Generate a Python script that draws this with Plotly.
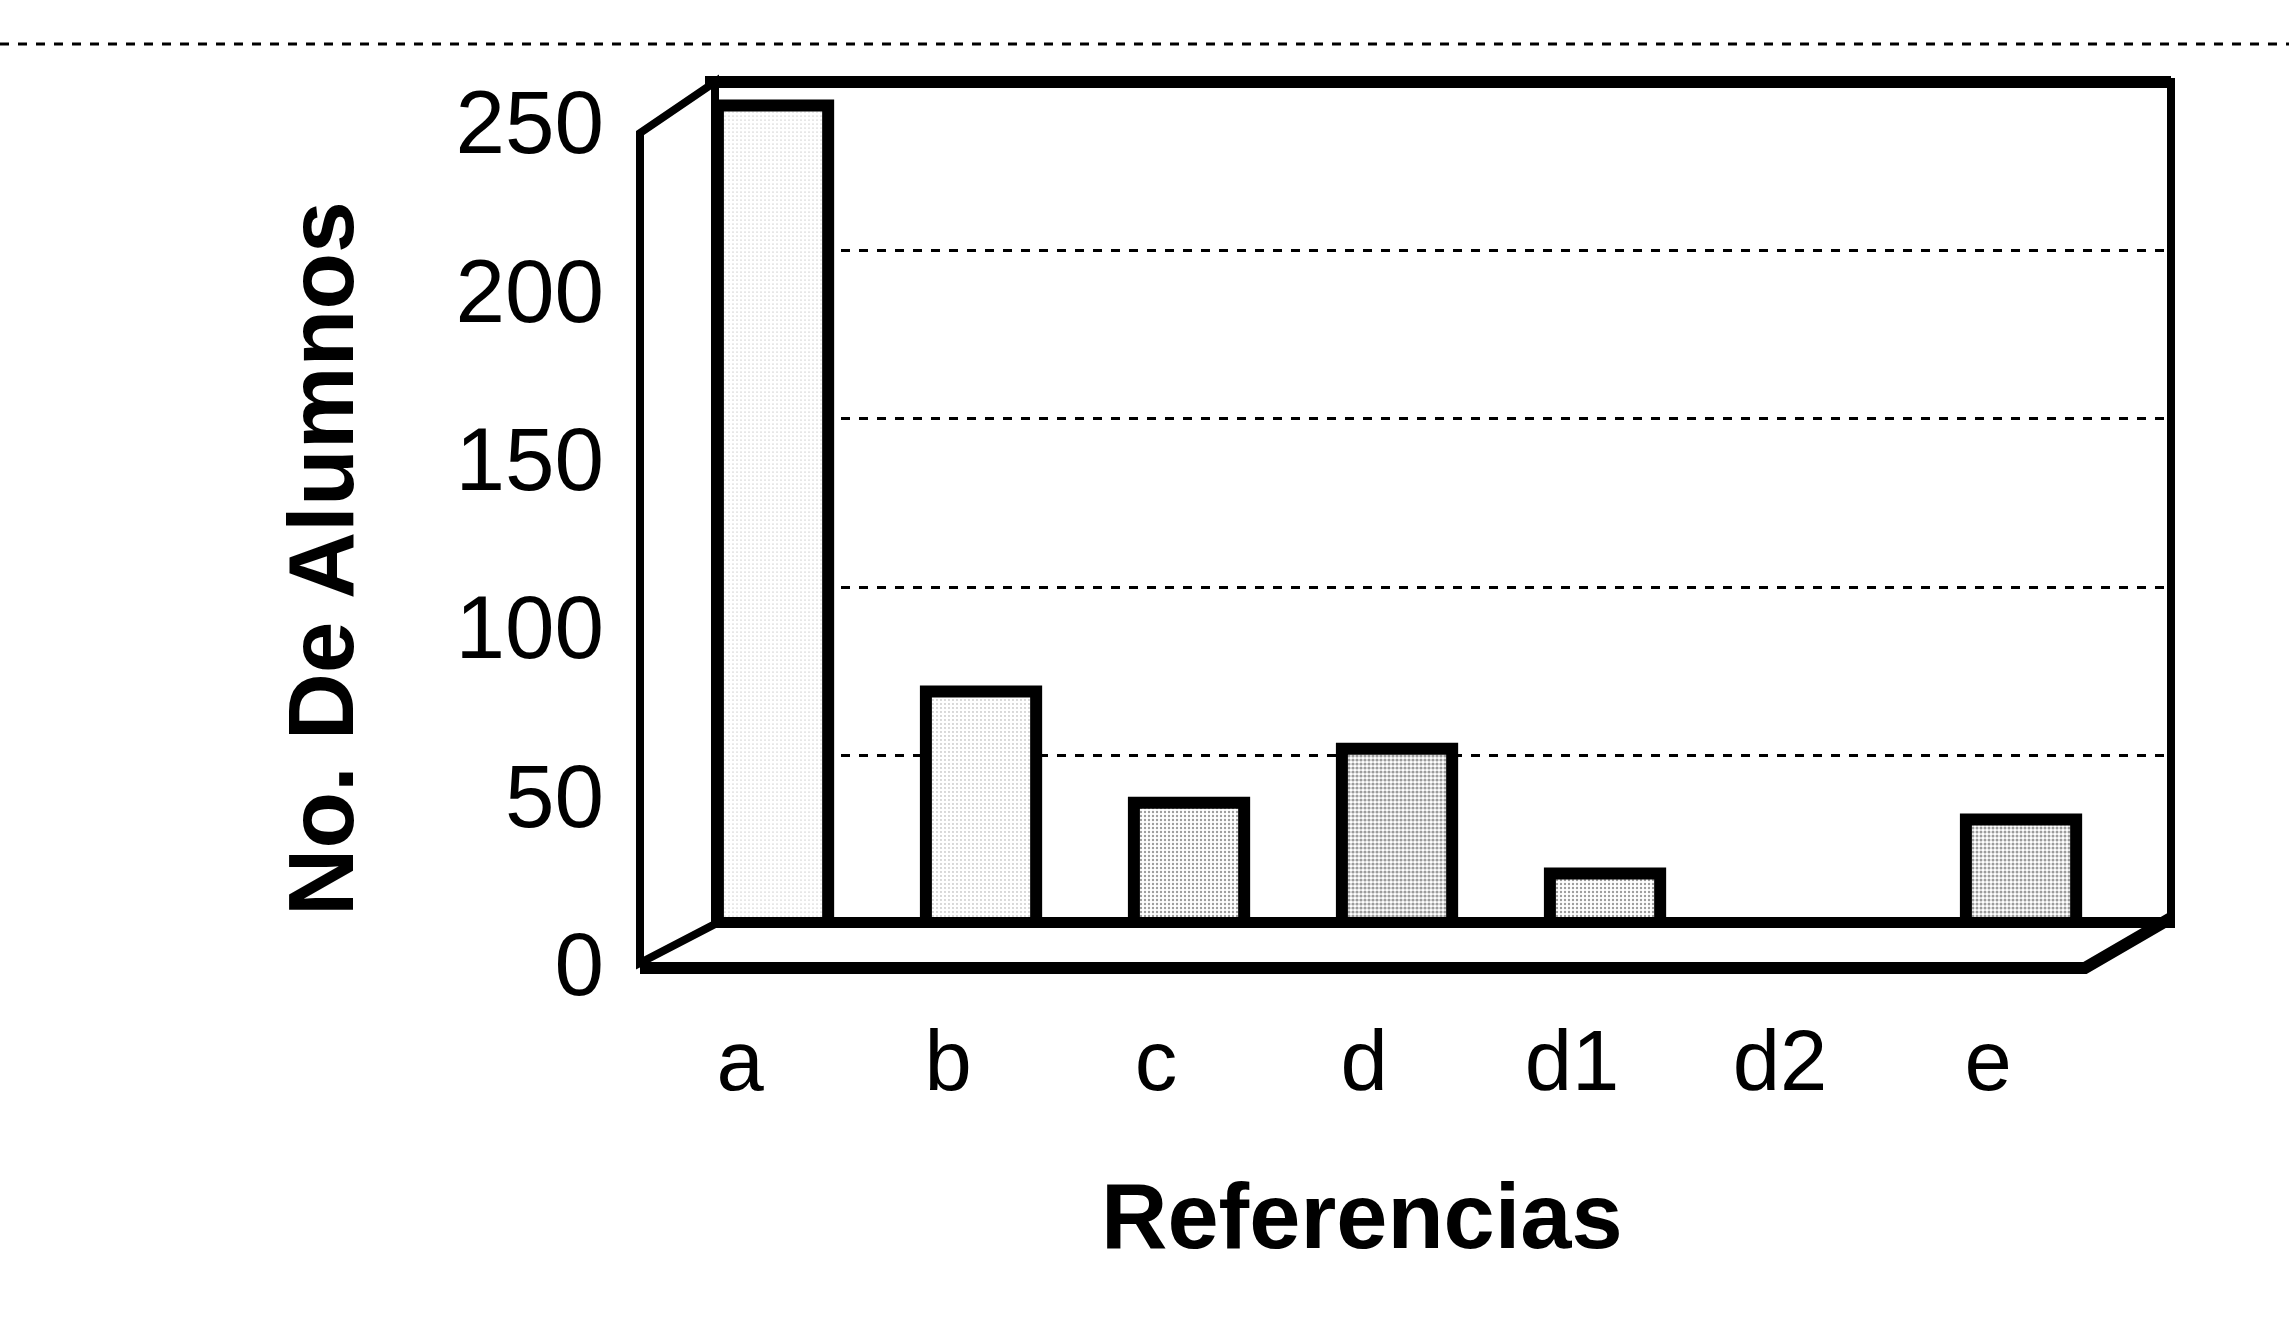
import plotly.graph_objects as go

categories = ["a", "b", "c", "d", "d1", "d2", "e"]
values = [243, 69, 36, 52, 15, 0, 31]
speckle = [0.06, 0.1, 0.28, 0.5, 0.28, 0.2, 0.45]
y_ticks = [0, 50, 100, 150, 200, 250]
x_title = "Referencias"
y_title = "No. De Alumnos"

W, H = 2289, 1327
L, R, T, B = 715, 2171, 82, 924  # back wall in pixels


def px(x):
    return (x - L) / (R - L)


def py(y):
    return (B - y) / (B - T)


FONT = "Liberation Sans, Arial, Helvetica, sans-serif"

fig = go.Figure()
fig.add_trace(go.Bar(
    x=categories,
    y=values,
    width=0.53,
    marker=dict(
        color="white",
        line=dict(color="black", width=12),
        pattern=dict(shape=".", size=4, solidity=speckle, fgcolor="#3a3a3a", bgcolor="white"),
    ),
    showlegend=False,
))

shapes = []
# left side wall
shapes.append(dict(
    type="path", xref="paper", yref="paper", layer="below",
    path=f"M {px(640)},{py(963)} L {px(640)},{py(133)} L {px(715)},{py(82)} L {px(715)},{py(924)} Z",
    line=dict(color="black", width=8), fillcolor="white",
))
# floor front edge and right corner
shapes.append(dict(
    type="path", xref="paper", yref="paper", layer="above",
    path=f"M {px(640)},{py(968)} L {px(2085)},{py(968)} L {px(2171)},{py(918)}",
    line=dict(color="black", width=12),
))
# back wall frame
shapes.append(dict(
    type="rect", xref="paper", yref="paper", layer="above",
    x0=0, x1=1, y0=0, y1=1, line=dict(color="black", width=8),
))
shapes.append(dict(
    type="line", xref="paper", yref="paper", layer="above",
    x0=px(705), x1=1, y0=1, y1=1, line=dict(color="black", width=12),
))
# connecting base line at zero
shapes.append(dict(
    type="line", xref="paper", yref="y", layer="above",
    x0=0, x1=1, y0=0, y1=0, line=dict(color="black", width=14),
))
# scan artefact line at top of page
shapes.append(dict(
    type="line", xref="paper", yref="paper", layer="above",
    x0=px(0), x1=px(W), y0=py(44), y1=py(44), line=dict(color="black", width=3, dash="dash"),
))

annotations = [
    dict(text=x_title, xref="paper", yref="paper", x=px(1362), y=py(1216),
         xanchor="center", yanchor="middle", showarrow=False,
         font=dict(size=92, family=FONT, weight=700, color="black")),
    dict(text=y_title, xref="paper", yref="paper", x=px(321), y=py(559),
         xanchor="center", yanchor="middle", showarrow=False, textangle=-90,
         font=dict(size=93, family=FONT, weight=700, color="black")),
]

fig.update_layout(
    width=W, height=H, autosize=False,
    margin=dict(l=L, r=W - R, t=T, b=H - B, pad=0),
    paper_bgcolor="white", plot_bgcolor="white",
    font=dict(family=FONT, color="black"),
    shapes=shapes,
    annotations=annotations,
    bargap=0.47,
    xaxis=dict(
        range=[-0.279, 6.721], showgrid=False, showline=False, zeroline=False, ticks="",
        tickfont=dict(size=85, family=FONT), ticklabelshift=-33, ticklabelstandoff=80,
        automargin=False,
    ),
    yaxis=dict(
        range=[0, 250], tickvals=y_ticks, showgrid=True, griddash="dash", gridcolor="black",
        gridwidth=3, zeroline=False, showline=False, ticks="",
        tickfont=dict(size=89, family=FONT), ticklabelshift=40, ticklabelstandoff=110,
        automargin=False,
    ),
)

fig.write_html("out.html")
